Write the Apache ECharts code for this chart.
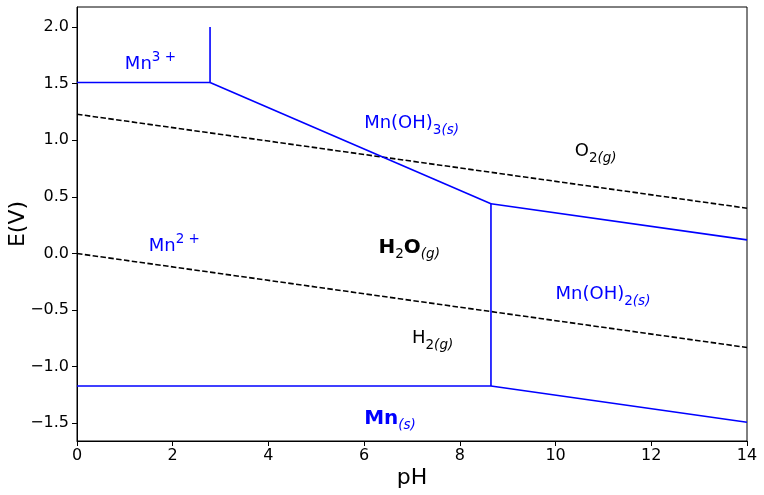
<!DOCTYPE html>
<html>
<head>
<meta charset="utf-8">
<script src="https://cdn.jsdelivr.net/npm/echarts@6/dist/echarts.min.js"></script>
<style>html,body{margin:0;padding:0;background:#fff}#c{width:764px;height:495px}</style>
</head>
<body>
<div id="c"></div>
<script>
// ---- data ----
const xTicks = [0, 2, 4, 6, 8, 10, 12, 14];
const yTicks = [-1.5, -1.0, -0.5, 0.0, 0.5, 1.0, 1.5, 2.0];
const xRange = [0, 14];
const yRange = [-1.656, 2.177];

// Mn boundaries (blue solid)
const mn3_mn2 = [[0, 1.51], [2.78, 1.51]];
const mn3_vertical = [[2.78, 1.51], [2.78, 2.0]];
const mnoh3_mn2 = [[2.78, 1.51], [8.65, 0.44]];
const mnoh3_mnoh2 = [[8.65, 0.44], [14, 0.12]];
const mn2_mnoh2 = [[8.65, 0.44], [8.65, -1.17]];
const mn2_mn = [[0, -1.17], [8.65, -1.17]];
const mnoh2_mn = [[8.65, -1.17], [14, -1.49]];
// Water boundaries (black dashed)
const o2_h2o = [[0, 1.23], [14, 0.40]];
const h2o_h2 = [[0, 0.0], [14, -0.83]];

// region labels: [pH, E(center), rich text, colour]
const labels = [
  [1.0, 1.67, '{n|Mn}{sup|3 +}', '#0000ff'],
  [6.0, 1.15, '{n|Mn(OH)}{sub|3}{subi|(s)}', '#0000ff'],
  [10.4, 0.90, '{n|O}{sub|2}{subi|(g)}', '#000000'],
  [1.5, 0.06, '{n|Mn}{sup|2 +}', '#0000ff'],
  [6.3, 0.05, '{b|H}{sub|2}{b|O}{subi|(g)}', '#000000'],
  [10.0, -0.36, '{n|Mn(OH)}{sub|2}{subi|(s)}', '#0000ff'],
  [7.0, -0.75, '{n|H}{sub|2}{subi|(g)}', '#000000'],
  [6.0, -1.46, '{b|Mn}{subi|(s)}', '#0000ff']
];

const FONT = 'DejaVu Sans';
const chart = echarts.init(document.getElementById('c'), null, {renderer: 'canvas'});

function lineSeries(data, color, dashed) {
  return {
    type: 'line', data: data, symbol: 'none', silent: true, animation: false,
    lineStyle: {color: color, width: 1.6, type: dashed ? [5.5, 2.4] : 'solid'},
    z: dashed ? 2 : 3
  };
}

const rich = (color) => ({
  n: {fontFamily: FONT, fontSize: 18, color: color, lineHeight: 26, verticalAlign: 'middle'},
  b: {fontFamily: FONT, fontSize: 20, fontWeight: 'bold', color: color, lineHeight: 26, verticalAlign: 'middle'},
  sub: {fontFamily: FONT, fontSize: 13.5, color: color, lineHeight: 26, verticalAlign: 'bottom', padding: [0,0,-1,0]},
  subi: {fontFamily: FONT, fontSize: 13.5, fontStyle: 'italic', color: color, lineHeight: 26, verticalAlign: 'bottom', padding: [0,0,-1,0]},
  sup: {fontFamily: FONT, fontSize: 13.5, color: color, lineHeight: 26, verticalAlign: 'top', padding: [-1,0,0,0]}
});

const labelSeries = labels.map(l => ({
  type: 'scatter', symbolSize: 0, silent: true, animation: false,
  data: [[l[0], l[1]]],
  label: {show: true, position: 'right', distance: 0, formatter: l[2], color: l[3], opacity: 1, rich: rich(l[3])}
}));

const series = [
  lineSeries(mn3_mn2, '#0000ff'),
  lineSeries(mn3_vertical, '#0000ff'),
  lineSeries(mnoh3_mn2, '#0000ff'),
  lineSeries(mnoh3_mnoh2, '#0000ff'),
  lineSeries(mn2_mnoh2, '#0000ff'),
  lineSeries(mn2_mn, '#0000ff'),
  lineSeries(mnoh2_mn, '#0000ff'),
  lineSeries(o2_h2o, '#000000', true),
  lineSeries(h2o_h2, '#000000', true)
].concat(labelSeries);

const fmtY = v => (v < 0 ? '\u2212' : '') + Math.abs(v).toFixed(1);

chart.setOption({
  animation: false,
  backgroundColor: '#fff',
  grid: {left: 77, right: 17, top: 7, bottom: 54, containLabel: false, outerBoundsMode: 'none',
         show: true, borderColor: '#000', borderWidth: 1, backgroundColor: 'transparent'},
  xAxis: {
    type: 'value', min: xRange[0], max: xRange[1], interval: 2,
    name: 'pH', nameLocation: 'middle', nameGap: 26, nameMoveOverlap: false,
    nameTextStyle: {fontFamily: FONT, fontSize: 22, color: '#000'},
    axisLine: {show: true, onZero: false, lineStyle: {color: '#000', width: 1}},
    axisTick: {show: true, length: 5, lineStyle: {color: '#000'}, customValues: xTicks},
    axisLabel: {fontFamily: FONT, fontSize: 16, color: '#000', margin: 7, customValues: xTicks},
    splitLine: {show: false}
  },
  yAxis: {
    type: 'value', min: yRange[0], max: yRange[1],
    name: 'E(V)', nameLocation: 'middle', nameGap: 48, nameMoveOverlap: false,
    nameTextStyle: {fontFamily: FONT, fontSize: 22, color: '#000'},
    axisLine: {show: true, onZero: false, lineStyle: {color: '#000', width: 1}},
    axisTick: {show: true, length: 5, lineStyle: {color: '#000'}, customValues: yTicks},
    axisLabel: {fontFamily: FONT, fontSize: 16, color: '#000', margin: 8, customValues: yTicks, formatter: fmtY},
    splitLine: {show: false}
  },
  series: series
});
</script>
</body>
</html>
